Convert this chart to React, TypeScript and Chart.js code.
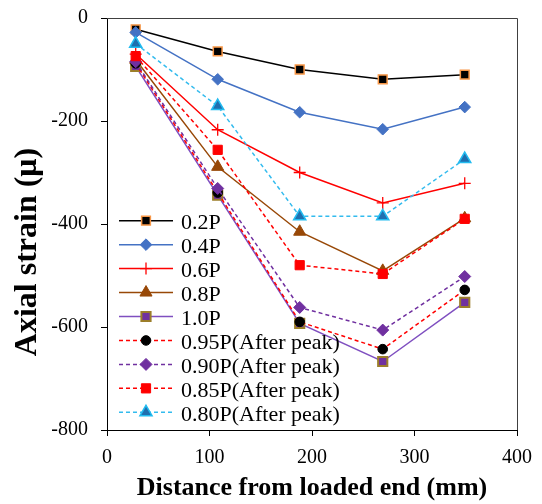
import React, { useEffect, useRef } from "react";
import { Chart, registerables } from "chart.js";
import { drawPoint } from "chart.js/helpers";

Chart.register(...registerables);

const distances = [28, 108, 188, 269, 349];
const seriesNames = [
  "0.2P",
  "0.4P",
  "0.6P",
  "0.8P",
  "1.0P",
  "0.95P(After peak)",
  "0.90P(After peak)",
  "0.85P(After peak)",
  "0.80P(After peak)",
];
const p02 = [-22, -65, -100, -119, -110];
const p04 = [-28, -119, -183, -216, -173];
const p06 = [-70, -217, -300, -359, -321];
const p08 = [-81, -289, -415, -491, -389];
const p10 = [-94, -344, -593, -667, -552];
const p095 = [-88, -339, -590, -643, -528];
const p090 = [-85, -331, -562, -606, -502];
const p085 = [-74, -256, -480, -497, -390];
const p080 = [-50, -171, -385, -385, -274];
const seriesValues = [p02, p04, p06, p08, p10, p095, p090, p085, p080];
const yTicks = [0, -200, -400, -600, -800];
const xTicks = [0, 100, 200, 300, 400];
const xTitle = "Distance from loaded end (mm)";
const yTitle = "Axial strain (μ)";

const styles = [
  { line: "#000000", dash: [], point: "rect", r: 6.2, fill: "#000000", border: "#F79646", bw: 1.5 },
  { line: "#4472C4", dash: [], point: "rectRot", r: 5.8, fill: "#4472C4", border: "#4472C4", bw: 1 },
  { line: "#FF0000", dash: [], point: "cross", r: 6, fill: "#FF0000", border: "#FF0000", bw: 1.3 },
  { line: "#984807", dash: [], point: "triangle", r: 7, fill: "#984807", border: "#984807", bw: 1 },
  { line: "#7F4FC0", dash: [], point: "rect", r: 6.5, fill: "#7030A0", border: "#9C7E2A", bw: 2 },
  { line: "#FF0000", dash: [4, 3], point: "circle", r: 4.8, fill: "#000000", border: "#000000", bw: 1 },
  { line: "#7030A0", dash: [4, 3], point: "rectRot", r: 6, fill: "#7030A0", border: "#7030A0", bw: 1 },
  { line: "#FF0000", dash: [4, 3], point: "rect", r: 6.5, fill: "#FF0000", border: "#FF0000", bw: 1 },
  { line: "#33BBEE", dash: [4, 3], point: "triangle", r: 7, fill: "#1F6FAF", border: "#22BBF0", bw: 1.5 },
];

const FONT = "'Liberation Serif', 'Times New Roman', serif";

const framePlugin = {
  id: "frame",
  afterDraw(chart: any) {
    const { ctx, chartArea } = chart;
    ctx.save();
    ctx.strokeStyle = "#404040";
    ctx.lineWidth = 1;
    ctx.setLineDash([]);
    ctx.beginPath();
    ctx.moveTo(chartArea.left, chartArea.top + 0.5);
    ctx.lineTo(chartArea.right + 0.5, chartArea.top + 0.5);
    ctx.lineTo(chartArea.right + 0.5, chartArea.bottom);
    ctx.stroke();
    // y-axis title
    ctx.translate(28, 252);
    ctx.rotate(-Math.PI / 2);
    ctx.fillStyle = "#000000";
    ctx.font = `bold 32px ${FONT}`;
    ctx.textAlign = "center";
    ctx.textBaseline = "middle";
    ctx.fillText(yTitle, 0, 0);
    ctx.restore();
  },
};

const legendPlugin = {
  id: "insideLegend",
  afterDraw(chart: any) {
    const { ctx } = chart;
    const x0 = 119;
    const x1 = 173;
    const xm = 146;
    const y0 = 220.7;
    const step = 23.95;
    ctx.save();
    chart.data.datasets.forEach((ds: any, i: number) => {
      const st = styles[i];
      const y = y0 + i * step;
      ctx.strokeStyle = st.line;
      ctx.lineWidth = 1.5;
      ctx.setLineDash(st.dash);
      ctx.beginPath();
      ctx.moveTo(x0, y);
      ctx.lineTo(x1, y);
      ctx.stroke();
      ctx.setLineDash([]);
      ctx.fillStyle = st.fill;
      ctx.strokeStyle = st.border;
      ctx.lineWidth = st.bw;
      drawPoint(ctx, { pointStyle: st.point, radius: st.r, borderWidth: st.bw, rotation: 0 } as any, xm, y);
      ctx.fillStyle = "#000000";
      ctx.font = `22px ${FONT}`;
      ctx.textBaseline = "alphabetic";
      ctx.textAlign = "left";
      ctx.fillText(ds.label, 181, y + 8.5);
    });
    ctx.restore();
  },
};

export default function App() {
  const ref = useRef<HTMLCanvasElement | null>(null);
  useEffect(() => {
    if (!ref.current) return;
    const datasets = seriesValues.map((vals, i) => {
      const st = styles[i];
      return {
        label: seriesNames[i],
        data: distances.map((d, j) => ({ x: d, y: vals[j] })),
        borderColor: st.line,
        backgroundColor: st.fill,
        borderWidth: 1.5,
        borderDash: st.dash,
        pointStyle: st.point,
        pointRadius: st.r,
        pointBackgroundColor: st.fill,
        pointBorderColor: st.border,
        pointBorderWidth: st.bw,
        tension: 0,
        fill: false,
        order: 20 - i,
      };
    });
    const chart = new Chart(ref.current, {
      type: "line",
      data: { datasets },
      options: {
        animation: false,
        responsive: false,
        maintainAspectRatio: false,
        layout: { padding: { top: 18, right: 25, left: 0, bottom: 0 } },
        plugins: {
          legend: { display: false },
          tooltip: { enabled: false },
        },
        scales: {
          x: {
            type: "linear",
            min: 0,
            max: 400,
            afterBuildTicks: (scale: any) => {
              scale.ticks = xTicks.map((v) => ({ value: v }));
            },
            afterFit: (scale: any) => {
              scale.height = 74;
              scale.paddingLeft = 0;
              scale.paddingRight = 0;
            },
            ticks: {
              font: { family: FONT, size: 20 },
              color: "#000000",
              padding: 10,
              maxRotation: 0,
            },
            grid: { drawOnChartArea: false, drawTicks: true, tickLength: 6, color: "#000000" },
            border: { display: true, color: "#000000", width: 1 },
            title: {
              display: true,
              text: xTitle,
              font: { family: FONT, size: 26, weight: "bold" },
              color: "#000000",
              padding: { top: 0, bottom: 0 },
            },
          },
          y: {
            type: "linear",
            min: -800,
            max: 0,
            afterBuildTicks: (scale: any) => {
              scale.ticks = yTicks.map((v) => ({ value: v }));
            },
            afterFit: (scale: any) => {
              scale.width = 107;
              scale.paddingTop = 0;
              scale.paddingBottom = 0;
            },
            ticks: {
              font: { family: FONT, size: 20 },
              color: "#000000",
              padding: 13,
            },
            grid: { drawOnChartArea: false, drawTicks: true, tickLength: 6, color: "#000000" },
            border: { display: true, color: "#000000", width: 1 },
            title: { display: false },
          },
        },
      },
      plugins: [framePlugin, legendPlugin],
    } as any);
    return () => chart.destroy();
  }, []);
  return (
    <div style={{ position: "fixed", left: 0, top: 0, width: 542, height: 504, background: "#ffffff" }}>
      <canvas ref={ref} width={542} height={504} style={{ width: 542, height: 504, display: "block" }} />
    </div>
  );
}
